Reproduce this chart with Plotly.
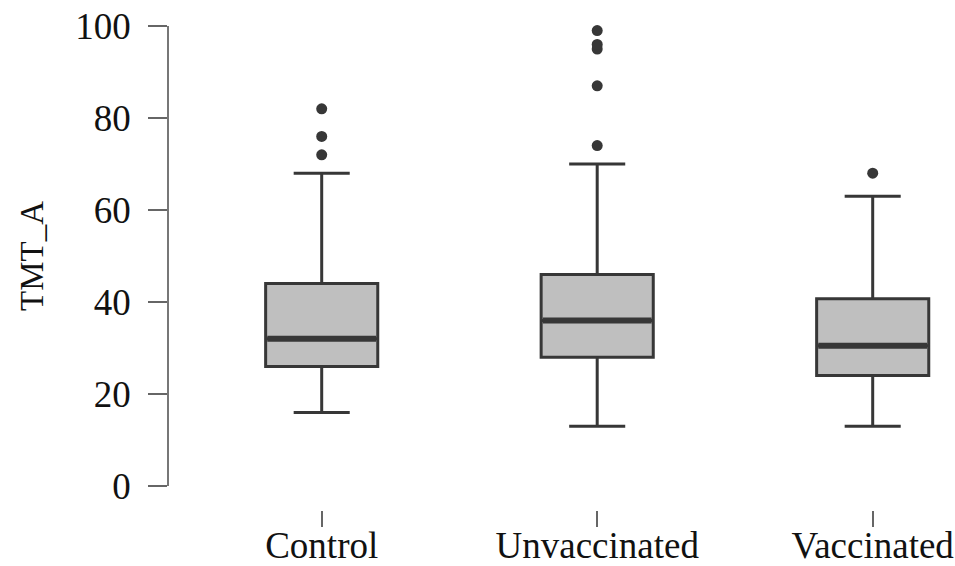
import plotly.graph_objects as go

categories = ["Control", "Unvaccinated", "Vaccinated"]
lower_whisker = [16, 13, 13]
q1 = [26, 28, 24]
median = [32, 36, 30.5]
q3 = [44, 46, 40.7]
upper_whisker = [68, 70, 63]
outliers = {
    "Control": [72, 76, 82],
    "Unvaccinated": [74, 87, 95, 96, 99],
    "Vaccinated": [68],
}
y_ticks = [0, 20, 40, 60, 80, 100]

BOX_W = 0.407
LINE = "#373737"
FILL = "#bfbfbf"
FONT = "Liberation Serif"

pos = list(range(len(categories)))

fig = go.Figure()
fig.add_trace(go.Box(
    x=pos, q1=q1, median=median, q3=q3,
    lowerfence=lower_whisker, upperfence=upper_whisker,
    width=BOX_W, whiskerwidth=0.5,
    fillcolor=FILL, line=dict(color=LINE, width=3),
    boxpoints=False, hoverinfo="skip", showlegend=False,
))

mx, my = [], []
for i, m in zip(pos, median):
    mx += [i - BOX_W / 2 + 0.006, i + BOX_W / 2 - 0.006, None]
    my += [m, m, None]
fig.add_trace(go.Scatter(x=mx, y=my, mode="lines",
                         line=dict(color=LINE, width=6),
                         hoverinfo="skip", showlegend=False))

ox, oy = [], []
for i, c in zip(pos, categories):
    for v in outliers[c]:
        ox.append(i)
        oy.append(v)
fig.add_trace(go.Scatter(x=ox, y=oy, mode="markers",
                         marker=dict(color=LINE, size=11),
                         hoverinfo="skip", showlegend=False, cliponaxis=False))

L, R, T, B = 169, 20, 26, 56
W = 955 - L - R
H = 566 - T - B
spacing = 275.5
xa = -(321.7 - L) / spacing
xb = xa + W / spacing
y0_px = 486
dom0 = (566 - B - y0_px) / H

fig.update_layout(
    width=955, height=566,
    margin=dict(l=L, r=R, t=T, b=B, autoexpand=False),
    plot_bgcolor="white", paper_bgcolor="white",
    font=dict(family=FONT, size=33, color="#111111"),
    showlegend=False,
    xaxis=dict(
        range=[xa, xb], tickvals=pos, ticktext=categories,
        showline=False, showgrid=False, zeroline=False,
        ticks="outside", ticklen=16, tickwidth=1.5, tickcolor="#666666",
        anchor="free", position=0, automargin=False,
        ticklabelstandoff=-13,
        tickfont=dict(family=FONT, size=37, color="#111111"),
    ),
    yaxis=dict(
        range=[0, 100], domain=[dom0, 1], tickvals=y_ticks,
        showline=True, linecolor="#777777", linewidth=1.5,
        showgrid=False, zeroline=False, automargin=False,
        ticks="outside", ticklen=19, tickwidth=1.5, tickcolor="#666666",
        ticklabelstandoff=10,
        tickfont=dict(family=FONT, size=37, color="#111111"),
    ),
)

fig.add_annotation(
    text="TMT_A", textangle=-90, showarrow=False,
    xref="paper", yref="y", x=(32 - L) / W, y=50,
    xanchor="center", yanchor="middle",
    font=dict(family=FONT, size=33, color="#111111"),
)

fig.write_html("out.html",
               config={"displayModeBar": False},
               post_script="document.body.style.margin='0';document.body.style.overflow='hidden';")
